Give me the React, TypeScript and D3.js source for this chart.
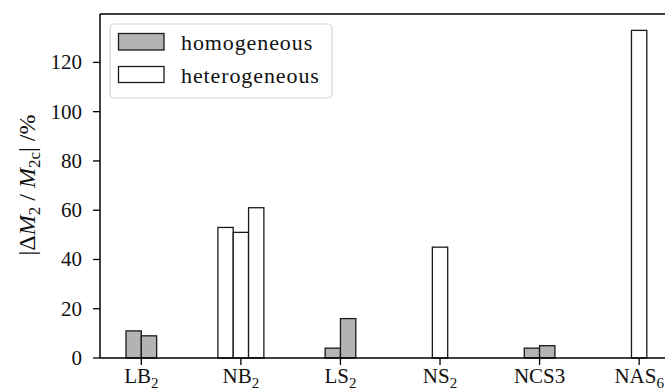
import React from "react";
import * as d3 from "d3";

// Relative deviation of M2 per glass system
const categories = ["LB", "NB", "LS", "NS", "NCS3", "NAS"];
const categorySubs = ["2", "2", "2", "2", "", "6"];
const homogeneous: number[][] = [[11, 9], [], [4, 16], [], [4, 5], []];
const heterogeneous: number[][] = [[], [53, 51, 61], [], [45], [], [133]];
const yTicks = [0, 20, 40, 60, 80, 100, 120];

const W = 665;
const H = 391;
const FONT = "'Liberation Serif', 'DejaVu Serif', serif";
const BAR_W = 0.154;
const GRAY = "#b3b3b3";
const EDGE = "#1a1a1a";

export default function App() {
  const x = d3.scaleLinear().domain([-0.415, 5.34]).range([100, 673]);
  const y = d3.scaleLinear().domain([0, 139.65]).range([358, 14]);

  const bars: { key: string; x0: number; v: number; fill: string }[] = [];
  categories.forEach((c, i) => {
    const items = [
      ...homogeneous[i].map((v) => ({ v, fill: GRAY })),
      ...heterogeneous[i].map((v) => ({ v, fill: "#ffffff" })),
    ];
    const n = items.length;
    items.forEach((it, j) => {
      const start = i - (n * BAR_W) / 2 + j * BAR_W;
      bars.push({ key: `${c}-${j}`, x0: start, v: it.v, fill: it.fill });
    });
  });

  const bw = x(BAR_W) - x(0);

  return (
    <svg width={W} height={H} style={{ position: "absolute", left: 0, top: 0, background: "#fff" }} fontFamily={FONT}>
      <rect x={0} y={0} width={W} height={H} fill="#fff" />
      {bars.map((b) => (
        <rect
          key={b.key}
          x={x(b.x0)}
          y={y(b.v)}
          width={bw}
          height={y(0) - y(b.v)}
          fill={b.fill}
          stroke={EDGE}
          strokeWidth={1.3}
        />
      ))}

      {/* spines */}
      <line x1={100} x2={100} y1={14} y2={358} stroke="#000" strokeWidth={1.5} />
      <line x1={100} x2={673} y1={358} y2={358} stroke="#000" strokeWidth={1.5} />
      <line x1={100} x2={673} y1={14} y2={14} stroke="#000" strokeWidth={1.5} />
      <line x1={673} x2={673} y1={14} y2={358} stroke="#000" strokeWidth={1.5} />

      {/* y axis */}
      {yTicks.map((t) => (
        <g key={t}>
          <line x1={93} x2={100} y1={y(t)} y2={y(t)} stroke="#000" strokeWidth={1.3} />
          <text x={82} y={y(t) + 7} textAnchor="end" fontSize={21} fill="#111">
            {t}
          </text>
        </g>
      ))}

      {/* x axis */}
      {categories.map((c, i) => (
        <g key={c}>
          <line x1={x(i)} x2={x(i)} y1={358} y2={365} stroke="#000" strokeWidth={1.3} />
          <text x={x(i)} y={383} textAnchor="middle" fontSize={21} fill="#111">
            {c}
            {categorySubs[i] && (
              <tspan fontSize={15} dy={5}>
                {categorySubs[i]}
              </tspan>
            )}
          </text>
        </g>
      ))}

      {/* y label */}
      <text transform="translate(35,185) rotate(-90)" textAnchor="middle" fontSize={24} fill="#111">
        |Δ<tspan fontStyle="italic">M</tspan>
        <tspan fontSize={17} dy={5}>2</tspan>
        <tspan dy={-5}> / </tspan>
        <tspan fontStyle="italic">M</tspan>
        <tspan fontSize={17} dy={5}>2c</tspan>
        <tspan dy={-5}>| /%</tspan>
      </text>

      {/* legend */}
      <rect x={110} y={24} width={222} height={74} rx={4} fill="#fff" fillOpacity={0.8} stroke="#d6d6d6" strokeWidth={1.2} />
      <rect x={118.5} y={33.5} width={45.5} height={16.5} fill={GRAY} stroke={EDGE} strokeWidth={1.3} />
      <text x={181} y={50} fontSize={22} letterSpacing={0.9} fill="#111">
        homogeneous
      </text>
      <rect x={118.5} y={66.5} width={45.5} height={16} fill="#fff" stroke={EDGE} strokeWidth={1.3} />
      <text x={181} y={82.5} fontSize={22} letterSpacing={0.9} fill="#111">
        heterogeneous
      </text>
    </svg>
  );
}
